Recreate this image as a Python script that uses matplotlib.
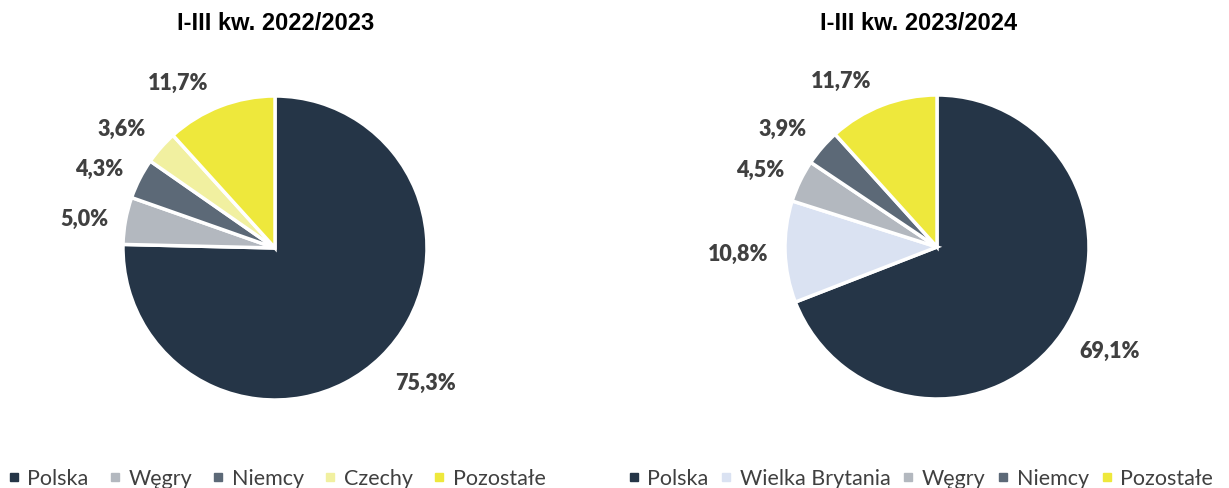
import matplotlib
matplotlib.use("Agg")
from matplotlib import pyplot as plt
from matplotlib.lines import Line2D

# === Dane ===
labels_a = ["Polska", "Węgry", "Niemcy", "Czechy", "Pozostałe"]
values_a = [75.3, 5.0, 4.3, 3.6, 11.7]
labels_b = ["Polska", "Wielka Brytania", "Węgry", "Niemcy", "Pozostałe"]
values_b = [69.1, 10.8, 4.5, 3.9, 11.7]
titles = ["I-III kw. 2022/2023", "I-III kw. 2023/2024"]

# położenie etykiet (w promieniach, względem środka koła)
label_pos_a = [(0.993, -0.888), (-1.253, 0.191), (-1.158, 0.520), (-1.007, 0.783), (-0.635, 1.086)]
label_pos_b = [(1.138, -0.684), (-1.309, -0.046), (-1.164, 0.507), (-1.013, 0.776), (-0.632, 1.092)]

COLORS = {
    "Polska": "#253547",
    "Węgry": "#b3b8bf",
    "Niemcy": "#5c6977",
    "Czechy": "#f1f0a0",
    "Pozostałe": "#eee83c",
    "Wielka Brytania": "#dae2f2",
}
LABEL_COLOR = "#404040"

W, H = 1229, 488
R = 152  # promień w px

fig = plt.figure(figsize=(W / 100, H / 100), dpi=100)
fig.patch.set_facecolor("white")


def draw_pie(cx, cy, labels, values, label_pos, title, title_x, legend_x, colspace):
    ax = fig.add_axes([(cx - R) / W, 1 - (cy + R) / H, 2 * R / W, 2 * R / H])
    ax.pie(
        values,
        colors=[COLORS[l] for l in labels],
        startangle=90,
        counterclock=False,
        wedgeprops=dict(edgecolor="white", linewidth=2.5),
    )
    for v, (x, y) in zip(values, label_pos):
        ax.text(x, y, f"{v:.1f}%".replace(".", ","), ha="center", va="center",
                fontsize=15.5, fontweight="heavy", color=LABEL_COLOR, family="Lato")
    ax.set_xlim(-1, 1)
    ax.set_ylim(-1, 1)
    ax.set_aspect("equal")
    fig.text(title_x / W, 1 - 23 / H, title, ha="center", va="center",
             fontsize=17, fontweight="bold", family="Liberation Sans", color="black")
    handles = [Line2D([], [], marker="s", linestyle="none", markersize=5.3,
                      markerfacecolor=COLORS[l], markeredgecolor=COLORS[l]) for l in labels]
    fig.legend(handles, labels, loc="center left",
               bbox_to_anchor=(legend_x / W, 1 - 479 / H), ncol=len(labels),
               frameon=False, handlelength=0.35, handletextpad=0.45,
               columnspacing=colspace, borderaxespad=0, borderpad=0,
               prop=dict(family="Lato", size=15.5), labelcolor="#404040")


draw_pie(275, 248, labels_a, values_a, label_pos_a, titles[0], 276, 10, 1.05)
draw_pie(937, 247, labels_b, values_b, label_pos_b, titles[1], 919, 630, 0.65)

plt.savefig("out.png", dpi=100, facecolor="white")
plt.close()
